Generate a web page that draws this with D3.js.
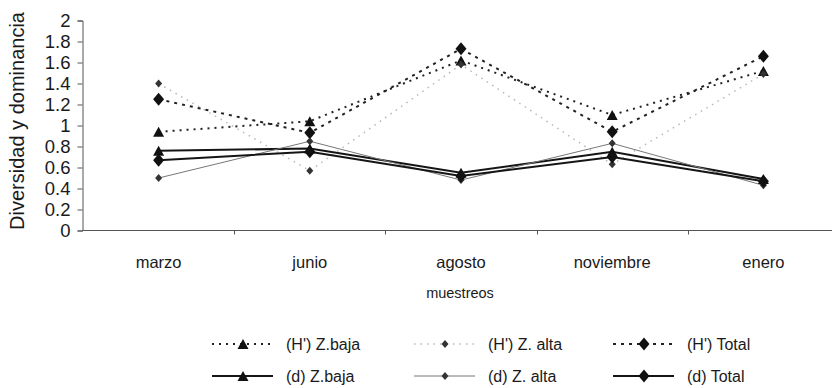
<!DOCTYPE html>
<html>
<head>
<meta charset="utf-8">
<script src="https://cdn.jsdelivr.net/npm/d3@7"></script>
<style>
  html, body { margin: 0; padding: 0; background: #fff; }
  svg { display: block; font-family: "Liberation Sans", Arial, sans-serif; }
</style>
</head>
<body>
<svg id="chart" width="832" height="388"></svg>
<script>
// Sampling months (x categories)
const months = ["marzo", "junio", "agosto", "noviembre", "enero"];

// Shannon diversity (H') per zone and total
const hBaja  = [0.94, 1.04, 1.62, 1.10, 1.52];
const hAlta  = [1.40, 0.57, 1.58, 0.63, 1.49];
const hTotal = [1.25, 0.93, 1.73, 0.94, 1.66];

// Dominance (d) per zone and total
const dBaja  = [0.76, 0.78, 0.55, 0.75, 0.49];
const dAlta  = [0.50, 0.85, 0.48, 0.83, 0.43];
const dTotal = [0.67, 0.75, 0.52, 0.70, 0.47];

const yTicks = [0, 0.2, 0.4, 0.6, 0.8, 1, 1.2, 1.4, 1.6, 1.8, 2];

const series = [
  { name: "(H') Z.baja",  values: hBaja,  stroke: "#222",    width: 2,   dash: "2,5",   marker: "tri", mw: 11, mh: 10, mFill: "#111" },
  { name: "(H') Z. alta", values: hAlta,  stroke: "#b8b8b8", width: 1.5, dash: "1.5,5", marker: "dia", mw: 7,  mh: 8,  mFill: "#333" },
  { name: "(H') Total",   values: hTotal, stroke: "#222",    width: 2,   dash: "3,5",   marker: "dia", mw: 11, mh: 13, mFill: "#111" },
  { name: "(d) Z.baja",   values: dBaja,  stroke: "#151515", width: 2,   dash: null,    marker: "tri", mw: 11, mh: 10, mFill: "#111" },
  { name: "(d) Z. alta",  values: dAlta,  stroke: "#777",    width: 1,   dash: null,    marker: "dia", mw: 7,  mh: 8,  mFill: "#333" },
  { name: "(d) Total",    values: dTotal, stroke: "#151515", width: 2,   dash: null,    marker: "dia", mw: 11, mh: 13, mFill: "#111" }
];

const svg = d3.select("#chart");

const x = d3.scaleBand().domain(months).range([83, 839]).padding(0);
const y = d3.scaleLinear().domain([0, 2]).range([230.5, 20.5]);
const cx = m => x(m) + x.bandwidth() / 2;

// Y axis
const yAxis = svg.append("g")
  .attr("transform", "translate(82.5,0)")
  .call(d3.axisLeft(y).tickValues(yTicks).tickFormat(d3.format("~g")).tickSize(5).tickPadding(7));
yAxis.select(".domain").attr("stroke", "#555");
yAxis.selectAll(".tick line").attr("stroke", "#555");
yAxis.selectAll(".tick text")
  .attr("font-size", 18.5).attr("fill", "#1a1a1a")
  .attr("font-family", "'Liberation Sans', Arial, sans-serif");

// X axis with ticks on category boundaries
const xAxis = svg.append("g").attr("transform", "translate(0,230.5)");
xAxis.append("line")
  .attr("x1", 82.5).attr("x2", 832)
  .attr("stroke", "#555");
xAxis.selectAll("line.bt")
  .data(months.slice(1))
  .join("line")
  .attr("class", "bt")
  .attr("x1", d => Math.round(x(d)) + 0.5).attr("x2", d => Math.round(x(d)) + 0.5)
  .attr("y1", 0).attr("y2", 4)
  .attr("stroke", "#555");
xAxis.selectAll("text")
  .data(months)
  .join("text")
  .attr("x", d => cx(d))
  .attr("y", 37)
  .attr("text-anchor", "middle")
  .attr("font-size", 16.5)
  .attr("fill", "#1a1a1a")
  .text(d => d);

// Axis titles
svg.append("text")
  .attr("x", 460).attr("y", 298)
  .attr("text-anchor", "middle")
  .attr("font-size", 14.5).attr("fill", "#1a1a1a")
  .text("muestreos");

svg.append("text")
  .attr("transform", "translate(24,121) rotate(-90)")
  .attr("text-anchor", "middle")
  .attr("font-size", 20).attr("fill", "#1a1a1a")
  .text("Diversidad y dominancia");

// Marker shapes
function markerPath(s) {
  const w = s.mw / 2, h = s.mh / 2;
  if (s.marker === "tri") return `M0,${-h}L${w},${h}L${-w},${h}Z`;
  return `M0,${-h}L${w},0L0,${h}L${-w},0Z`;
}

const line = d3.line()
  .x((d, i) => cx(months[i]))
  .y(d => y(d));

const plot = svg.append("g");
series.forEach(s => {
  plot.append("path")
    .datum(s.values)
    .attr("fill", "none")
    .attr("stroke", s.stroke)
    .attr("stroke-width", s.width)
    .attr("stroke-dasharray", s.dash)
    .attr("d", line);
});
series.forEach(s => {
  plot.selectAll(null)
    .data(s.values)
    .join("path")
    .attr("transform", (d, i) => `translate(${cx(months[i])},${y(d)})`)
    .attr("d", markerPath(s))
    .attr("fill", s.mFill);
});

// Legend: two rows, three columns
const legCols = [212, 414, 613];
const legRows = [344, 376];
const legend = svg.append("g");
series.forEach((s, i) => {
  const lx = legCols[i % 3];
  const ly = legRows[Math.floor(i / 3)];
  const g = legend.append("g").attr("transform", `translate(${lx},${ly})`);
  g.append("line")
    .attr("x1", 0).attr("x2", 61).attr("y1", 0).attr("y2", 0)
    .attr("stroke", s.stroke)
    .attr("stroke-width", s.width)
    .attr("stroke-dasharray", s.dash);
  g.append("path")
    .attr("transform", "translate(31,0)")
    .attr("d", markerPath(s))
    .attr("fill", s.mFill);
  g.append("text")
    .attr("x", 74).attr("y", 6)
    .attr("font-size", 16).attr("fill", "#1a1a1a")
    .text(s.name);
});
</script>
</body>
</html>
